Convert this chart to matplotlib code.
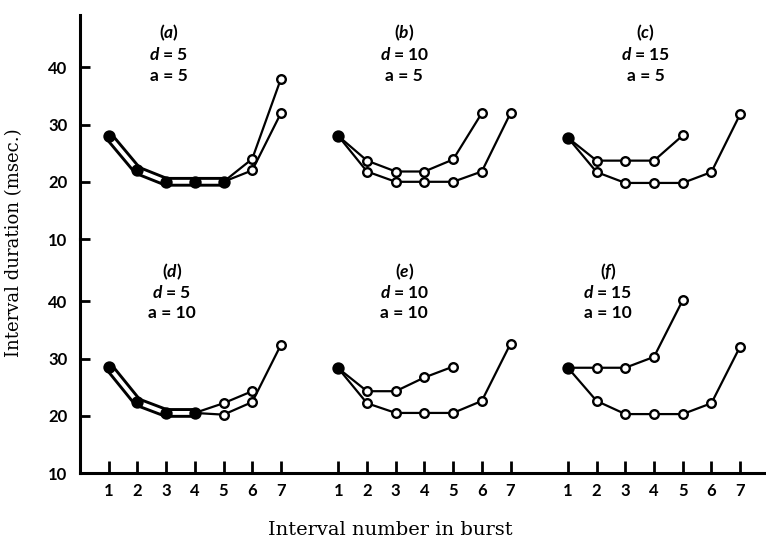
import matplotlib
matplotlib.use("Agg")
import matplotlib.pyplot as plt

# ---------------- data ----------------
intervals = [1, 2, 3, 4, 5, 6, 7]
panel_letters = ["a", "b", "c", "d", "e", "f"]
d_values = [5, 10, 15, 5, 10, 15]
a_values = [5, 5, 5, 10, 10, 10]
y_ticks = [10, 20, 30, 40]

a_upper = [28, 22, 20, 20, 20, 24, 38]
a_lower = [28, 22, 20, 20, 20, 22, 32]
b_upper = [28, 23.7, 21.8, 21.8, 23.9, 32]
b_lower = [28, 21.8, 20, 20, 20, 21.8, 32]
c_upper = [27.7, 23.7, 23.7, 23.7, 28.1]
c_lower = [27.7, 21.7, 19.8, 19.8, 19.8, 21.7, 31.8]
d_upper = [28.6, 22.4, 20.5, 20.5, 22.2, 24.3]
d_lower = [28.6, 22.4, 20.5, 20.5, 20.2, 22.4, 32.4]
e_upper = [28.3, 24.3, 24.3, 26.7, 28.6]
e_lower = [28.3, 22.2, 20.5, 20.5, 20.5, 22.6, 32.6]
f_upper = [28.4, 28.4, 28.4, 30.3, 40.2]
f_lower = [28.4, 22.6, 20.3, 20.3, 20.3, 22.2, 32.1]

panel_series = [
    (a_upper, a_lower), (b_upper, b_lower), (c_upper, c_lower),
    (d_upper, d_lower), (e_upper, e_lower), (f_upper, f_lower),
]

# ---------------- layout ----------------
GROUP_SHIFT = 8
label_x = [3.1, 11.3, 19.7, 3.2, 11.3, 18.4]
label_y_top = [46.0, 42.2, 38.5]
label_y_bot = [45.1, 41.5, 38.0]

plt.rcParams["mathtext.fontset"] = "custom"
plt.rcParams["mathtext.rm"] = "Lato:bold"
plt.rcParams["mathtext.it"] = "Lato:italic:bold"
plt.rcParams["mathtext.bf"] = "Lato:bold"

W, H = 766, 541
fig = plt.figure(figsize=(W / 100, H / 100), dpi=100)
PX_PER_X = 28.7
PX_PER_Y = 5.72
ax_left = 80
x_max = (W - ax_left) / PX_PER_X

ax_bot = fig.add_axes([ax_left / W, 1 - 473 / H, (W - ax_left) / W, 234 / H])
ax_top = fig.add_axes([ax_left / W, 1 - 239 / H, (W - ax_left) / W, 224 / H])
ax_bot.set_ylim(10, 10 + 234 / PX_PER_Y)
ax_top.set_ylim(10, 10 + 224 / PX_PER_Y)

tick_font = dict(family="Lato", weight="bold", size=12)

for ax in (ax_bot, ax_top):
    ax.set_xlim(0, x_max)
    for s in ("top", "right"):
        ax.spines[s].set_visible(False)
    ax.spines["left"].set_linewidth(2.2)
    ax.spines["bottom"].set_linewidth(2.2)
    ax.set_yticks(y_ticks)
    ax.set_yticklabels([str(t) for t in y_ticks], fontdict=tick_font)
    ax.tick_params(axis="y", direction="in", length=7, width=2, pad=9)
    ax.patch.set_alpha(0)

ax_top.spines["bottom"].set_visible(False)
ax_top.set_xticks([])

xt = [i + GROUP_SHIFT * g for g in range(3) for i in intervals]
ax_bot.set_xticks(xt)
ax_bot.set_xticklabels([str(i) for g in range(3) for i in intervals], fontdict=tick_font)
ax_bot.tick_params(axis="x", direction="in", length=9, width=2, pad=7)

MS = 6.2
MEW = 1.7
LW = 1.6

for idx, (upper, lower) in enumerate(panel_series):
    ax = ax_top if idx < 3 else ax_bot
    shift = GROUP_SHIFT * (idx % 3)
    xu = [intervals[i] + shift for i in range(len(upper))]
    xl = [intervals[i] + shift for i in range(len(lower))]
    # shared leading points
    k = 0
    while k < min(len(upper), len(lower)) and upper[k] == lower[k]:
        k += 1
    if k >= 3:
        ax.plot(xu[:k], upper[:k], color="black", lw=7, solid_capstyle="butt",
                zorder=2, clip_on=False)
        ax.plot(xu[:k], upper[:k], color="white", lw=2.8, solid_capstyle="butt",
                zorder=2.1, clip_on=False)
        start = k - 1
    else:
        start = 0
    for xs, ys in ((xu, upper), (xl, lower)):
        ax.plot(xs[start:], ys[start:], color="black", lw=LW, zorder=2.5, clip_on=False)
        ax.plot(xs[k:], ys[k:], ls="none", marker="o", ms=MS, mew=MEW,
                mfc="white", mec="black", zorder=3, clip_on=False)
    ax.plot(xu[:k], upper[:k], ls="none", marker="o", ms=MS + 1, mew=MEW,
            mfc="black", mec="black", zorder=3.2, clip_on=False)

    ly = label_y_top if idx < 3 else label_y_bot
    tx = label_x[idx]
    kw = dict(ha="center", va="center", fontsize=12.5, family="Lato",
              weight="bold", color="black")
    ax.text(tx, ly[0], "($%s$)" % panel_letters[idx], **kw)
    ax.text(tx, ly[1], "$d$ = %d" % d_values[idx], **kw)
    ax.text(tx, ly[2], "a = %d" % a_values[idx], **kw)

fig.text(14 / W, 1 - 243 / H, "Interval duration (msec.)", rotation=90,
         ha="center", va="center", family="DejaVu Serif", fontsize=13)
fig.text(390 / W, 1 - 530 / H, "Interval number in burst",
         ha="center", va="center", family="DejaVu Serif", fontsize=14)

fig.savefig("out.png", dpi=100)
